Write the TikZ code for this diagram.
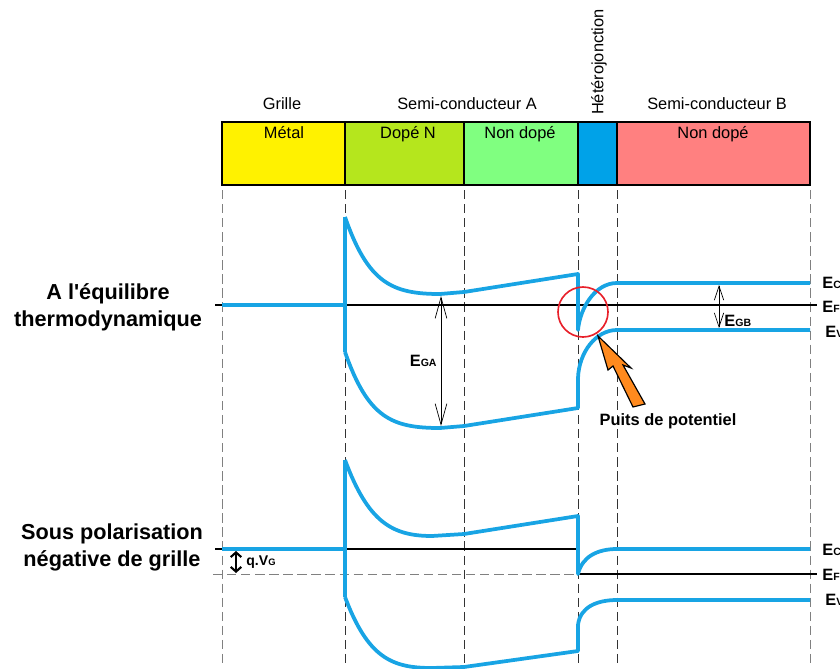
\documentclass[tikz,border=0pt]{standalone}
\usepackage{fontspec}
\setmainfont{Liberation Sans}
\usetikzlibrary{arrows.meta,positioning,calc}

\definecolor{metalyellow}{HTML}{FFF200}
\definecolor{dopedgreen}{HTML}{B5E61D}
\definecolor{undopedgreen}{HTML}{80FF80}
\definecolor{junctionblue}{HTML}{00A2E8}
\definecolor{undopedred}{HTML}{FF8080}
\definecolor{bandblue}{HTML}{18A4E4}
\definecolor{wellred}{HTML}{E8202A}
\definecolor{pointerorange}{HTML}{FF8A1E}

% energy level label: big bold E, small bold index
\newcommand{\lvl}[1]{{\fontsize{14}{16}\selectfont\bfseries E\fontsize{9}{10}\selectfont #1}}

\begin{document}
\begin{tikzpicture}[
    x=0.03cm, y=-0.03cm,
    every node/.style={font=\fontsize{14}{16}\selectfont, inner sep=1pt},
    layer/.style={draw, line width=1.1pt},
    guide/.style={gray!40!black, line width=0.7pt, dash pattern=on 8pt off 4pt},
    lightguide/.style={gray, line width=0.8pt, dash pattern=on 8pt off 4pt},
    band/.style={bandblue, line width=3.2pt, line join=round},
    fermi/.style={black, line width=1.6pt},
    gap/.style={<->, >={Straight Barb[length=18pt,width=10pt]}, line width=0.6pt},
    smallgap/.style={<->, >={Straight Barb[length=12pt,width=8pt]}, line width=0.6pt},
    biasarrow/.style={<->, >={Straight Barb[length=4pt,width=9pt]}, line width=1.8pt},
    title/.style={font=\fontsize{18.5}{23}\selectfont\bfseries, align=center}
]
\useasboundingbox (0,0) rectangle (840,668);

% Layer stack
\draw[layer, fill=metalyellow] (222,122) rectangle (345,185);
\draw[layer, fill=dopedgreen] (345,122) rectangle (464,185);
\draw[layer, fill=undopedgreen] (464,122) rectangle (578,185);
\draw[layer, fill=junctionblue] (578,122) rectangle (617,185);
\draw[layer, fill=undopedred] (617,122) rectangle (810,185);

\node (grille) at (282,104) {Grille};
\node (semiA) at (467,104) {Semi-conducteur A};
\node (semiB) at (717,104) {Semi-conducteur B};
\node[rotate=90] (hetero) at (599,62) {Hétérojonction};

\node[anchor=north] (metal) at (284,125) {Métal};
\node[anchor=north] (dopeN) at (408,125) {Dopé N};
\node[anchor=north] (nondopeA) at (520,125) {Non dopé};
\node[anchor=north] (nondopeB) at (713,125) {Non dopé};

% Guide lines
\foreach \xg in {345,464,578,617}
    \draw[guide] (\xg,190) -- (\xg,668);
\draw[lightguide] (222,190) -- (222,668);
\draw[lightguide] (810,190) -- (810,668);

% Thermodynamic equilibrium
\node[title] (equil) at (108,307) {A l\textquotesingle équilibre\\thermodynamique};

\draw[fermi] (215,305) -- (817,305);
\draw[band] (222,305) -- (345,305);
\draw[band] (345,217) -- (345,352);
\draw[band] (345,217) .. controls (368,283) and (392,294) .. (440,294)
    -- (464,292) -- (578,274) -- (578,330)
    .. controls (580,308) and (595,283) .. (617,283) -- (810,283);
\draw[band] (345,352) .. controls (368,418) and (392,428) .. (440,428)
    -- (464,426) -- (578,408) -- (578,378)
    .. controls (579,352) and (596,330) .. (617,330) -- (810,330);

\coordinate (cbA) at (441,296);
\coordinate (vbA) at (441,426);
\draw[gap] (cbA) -- (vbA);
\node[anchor=east] (egA) at (438,361) {\lvl{GA}};

\coordinate (cbB) at (719,285);
\coordinate (vbB) at (719,328);
\draw[smallgap] (cbB) -- (vbB);
\node[anchor=west] (egB) at (723,321) {\lvl{GB}};

\node[anchor=west] (ec1) at (821,283) {\lvl{C}};
\node[anchor=west] (ef1) at (821,307) {\lvl{F}};
\node[anchor=west] (ev1) at (824,332) {\lvl{V}};

% Potential well
\node[circle, draw=wellred, line width=1.4pt, minimum size=1.5cm, inner sep=0pt] (well) at (583,312) {};
\draw[black, line width=1pt, fill=pointerorange, line join=miter]
    (598,336) -- (608,370) -- (613,366) -- (633,407) -- (645,404)
    -- (623,365) -- (631,368) -- cycle;
\node[font=\fontsize{14}{16}\selectfont\bfseries] (puits) at (668,421) {Puits de potentiel};

% Negative gate bias
\node[title] (bias) at (112,547) {Sous polarisation\\négative de grille};

\draw[fermi] (215,549) -- (578,549);
\draw[lightguide] (213,574) -- (578,574);
\draw[fermi] (578,574) -- (817,574);
\draw[band] (222,549) -- (345,549);
\draw[band] (345,460) -- (345,597);
\draw[band] (345,460) .. controls (368,522) and (392,536) .. (432,536)
    -- (464,534) -- (578,516) -- (578,574)
    .. controls (582,557) and (597,549) .. (617,549) -- (810,549);
\draw[band] (345,597) .. controls (368,658) and (392,668) .. (432,668)
    -- (464,667) -- (578,651) -- (578,625)
    .. controls (580,607) and (597,600) .. (617,600) -- (810,600);

\coordinate (vgtop) at (236,551);
\coordinate (vgbot) at (236,573);
\draw[biasarrow] (vgtop) -- (vgbot);
\node[anchor=west] (qvg) at (245,562) {\fontsize{12}{14}\selectfont\bfseries q.V\fontsize{8}{9}\selectfont G};

\node[anchor=west] (ec2) at (821,550) {\lvl{C}};
\node[anchor=west] (ef2) at (821,575) {\lvl{F}};
\node[anchor=west] (ev2) at (824,600) {\lvl{V}};

\end{tikzpicture}
\end{document}
